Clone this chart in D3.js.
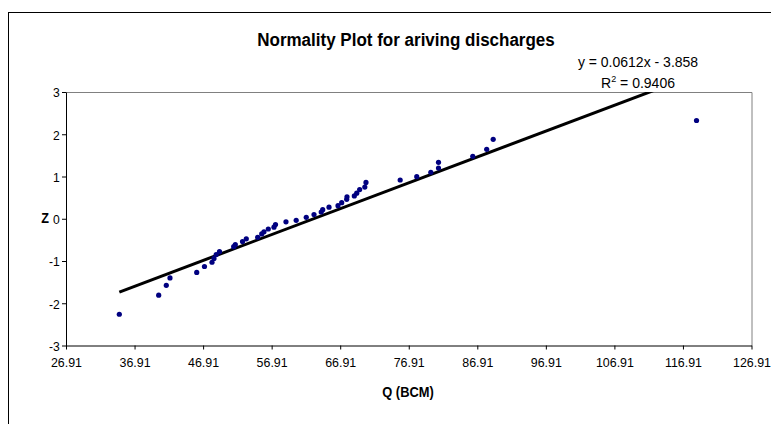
<!DOCTYPE html>
<html><head><meta charset="utf-8">
<script src="https://cdn.jsdelivr.net/npm/d3@7"></script>
<style>body{margin:0;background:#fff}svg{display:block}text{font-family:"Liberation Sans",Arial,sans-serif}</style>
</head><body><svg id="c" width="771" height="424"></svg>
<script>
const qValues = [34.69,40.43,41.54,42.08,45.98,47.11,48.21,48.50,48.82,49.30,51.37,51.61,52.66,53.21,54.87,55.46,55.79,56.42,57.25,57.47,59.00,60.49,61.96,63.09,64.14,64.36,65.28,66.59,67.13,67.86,67.90,68.97,69.32,69.75,70.50,70.67,75.66,78.08,80.13,81.25,81.25,86.25,88.28,89.23,118.89];
const zValues = [-2.26,-1.81,-1.575,-1.40,-1.27,-1.13,-1.03,-0.94,-0.846,-0.78,-0.66,-0.614,-0.54,-0.475,-0.44,-0.36,-0.31,-0.243,-0.20,-0.136,-0.072,-0.037,0.034,0.10,0.16,0.214,0.273,0.309,0.38,0.46,0.52,0.54,0.605,0.69,0.75,0.86,0.917,0.995,1.10,1.20,1.336,1.478,1.644,1.88,2.325];
const xTicks = [26.91,36.91,46.91,56.91,66.91,76.91,86.91,96.91,106.91,116.91,126.91];
const yTicks = [-3,-2,-1,0,1,2,3];
const trendSlope = 0.0612, trendIntercept = -3.858;
const titleText = "Normality Plot for ariving discharges";
const eqText = "y = 0.0612x - 3.858";
const xLabel = "Q (BCM)", yLabel = "Z";

const svg = d3.select("#c");
const L=66,R=751.5,T=92,B=345.5;
const x = d3.scaleLinear().domain([26.91,126.91]).range([L,R]);
const y = d3.scaleLinear().domain([-3,3]).range([B,T]);

svg.append("rect").attr("x",8.5).attr("y",12.5).attr("width",900).attr("height",600)
  .attr("fill","none").attr("stroke","#000").attr("stroke-width",1);

svg.append("path").attr("d",`M${L},${T+0.5}H${R+0.5}V${B}`).attr("fill","none").attr("stroke","#808080");

const fmt = d=>d.toFixed(2);
const xa = svg.append("g").attr("transform",`translate(0,${B})`)
  .call(d3.axisBottom(x).tickValues(xTicks).tickFormat(fmt).tickSize(4).tickPadding(5).tickSizeOuter(0));
const ya = svg.append("g").attr("transform",`translate(${L},0)`)
  .call(d3.axisLeft(y).tickValues(yTicks).tickFormat(d=>String(d)).tickSize(4).tickPadding(3).tickSizeOuter(0));
[xa,ya].forEach(a=>{a.select(".domain").attr("stroke","#000");a.selectAll(".tick line").attr("stroke","#000");
  a.selectAll("text").attr("font-size",13.5).attr("fill","#000").attr("font-family","Liberation Sans, Arial, sans-serif");});
xa.selectAll("text").attr("dy","0.95em").attr("transform","scale(0.92,1)");
ya.selectAll("text").attr("dy","0.36em").attr("transform","scale(0.9,1)");

svg.append("clipPath").attr("id","pc").append("rect").attr("x",L).attr("y",T).attr("width",R-L).attr("height",B-T);
const xmin=d3.min(qValues), xmax=d3.max(qValues);
svg.append("line").attr("clip-path","url(#pc)")
  .attr("x1",x(xmin)).attr("y1",y(trendSlope*xmin+trendIntercept))
  .attr("x2",x(xmax)).attr("y2",y(trendSlope*xmax+trendIntercept))
  .attr("stroke","#000").attr("stroke-width",3);

svg.append("g").selectAll("circle").data(qValues).join("circle")
  .attr("cx",d=>x(d)).attr("cy",(d,i)=>y(zValues[i])).attr("r",2.6).attr("fill","#000080");

function label(x0,y0,size,bold,sx,txt){
  return svg.append("text").attr("transform",`translate(${x0},${y0}) scale(${sx},1)`)
    .attr("text-anchor","middle").attr("font-size",size).attr("font-weight",bold?"bold":"normal").text(txt);
}
label(406,46,18,true,0.945,titleText);
label(638,67,14,false,1,eqText);
const r2 = svg.append("text").attr("transform","translate(638,88)").attr("text-anchor","middle").attr("font-size",14);
r2.append("tspan").text("R");
r2.append("tspan").attr("font-size",9).attr("dy",-6).text("2");
r2.append("tspan").attr("dy",6).text(" = 0.9406");
label(408,397,14,true,0.92,xLabel);
label(45,223,14,true,0.9,yLabel);
</script></body></html>
